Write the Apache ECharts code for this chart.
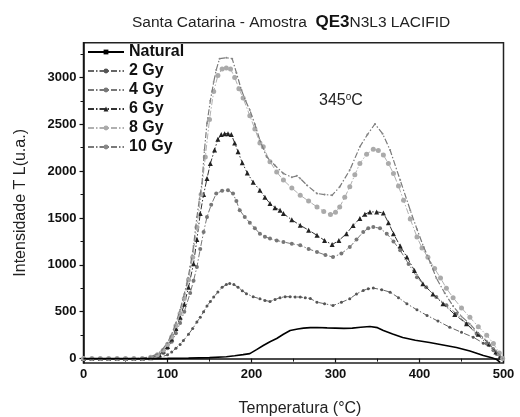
<!DOCTYPE html>
<html>
<head>
<meta charset="utf-8">
<script src="https://cdn.jsdelivr.net/npm/echarts@6/dist/echarts.min.js"></script>
<style>html,body{margin:0;padding:0;background:#fff}#c{width:520px;height:417px}</style>
</head>
<body>
<div id="c"></div>
<script>
var seriesNames = ['Natural', '2 Gy', '4 Gy', '6 Gy', '8 Gy', '10 Gy'];
var yTickValues = [0, 500, 1000, 1500, 2000, 2500, 3000];
var yMinorTickValues = [250, 750, 1250, 1750, 2250, 2750, 3250];

var natT = [0,25,50,75,100,125,150,170,180,190,198,206,214,222,230,238,246,255,262,270,278,290,300,310,320,330,341,350,357,368,380,395,412,428,444,460,476,486,492,496];
var natI = [0,0,0,0,2,5,10,20,30,42,53,96,140,180,214,260,300,315,325,330,332,328,325,322,325,335,342,330,300,262,225,195,171,145,118,80,32,10,-10,-40];

var gy2T = [0,10,20,30,40,50,60,70,80,90,100,105,110,115,119,125,130,135,139,143,147,151,155,160,165,170,174,179,184,189,194,202,210,216,222,228,234,240,246,252,258,264,270,278,287,297,307,317,325,333,339,345,355,365,375,385,397,409,422,436,450,464,476,488,493,496];
var gy2I = [0,0,0,0,0,0,0,0,0,10,40,70,110,150,193,260,320,390,442,500,560,610,656,710,760,790,802,790,760,725,692,660,638,620,610,630,650,660,660,658,656,650,640,602,585,567,600,638,690,727,745,752,735,709,650,585,520,460,400,335,280,228,165,104,50,14];

var gy4T = [0,10,20,30,40,50,60,70,80,90,95,100,105,110,115,120,127,131,135,139,143,147,152,158,165,172,178,182,186,192,198,204,210,216,222,230,238,248,258,268,278,288,297,307,317,325,333,339,345,353,361,369,377,387,397,408,420,432,444,456,468,480,488,492,496];
var gy4I = [0,0,0,0,0,0,0,0,8,30,60,110,180,270,380,500,700,830,977,1170,1350,1511,1640,1761,1790,1797,1760,1680,1583,1510,1450,1390,1333,1300,1280,1260,1244,1225,1209,1170,1137,1105,1083,1120,1190,1270,1351,1390,1404,1390,1333,1250,1155,1010,869,760,656,570,478,370,264,160,90,50,10];

var gy6T = [0,10,20,30,40,50,60,70,80,90,95,100,105,110,115,120,125,131,135,139,143,147,151,156,160,164,168,172,176,180,184,189,195,202,210,216,222,228,234,238,248,258,268,278,287,296,304,313,321,329,335,341,349,357,363,369,377,385,394,404,416,428,442,456,470,483,491,496];
var gy6I = [0,0,0,0,0,0,0,0,10,40,80,130,210,320,440,580,760,1013,1270,1548,1750,1920,2080,2225,2340,2390,2400,2400,2390,2300,2206,2090,1980,1880,1797,1720,1655,1610,1583,1547,1480,1422,1370,1315,1260,1216,1260,1333,1420,1494,1540,1565,1565,1554,1450,1333,1200,1083,940,799,690,585,470,371,260,157,70,14];

var gy8T = [0,10,20,30,40,50,60,70,80,88,95,100,105,110,115,120,125,130,135,140,145,150,155,160,165,170,175,180,185,190,198,204,210,214,222,230,238,248,258,268,278,286,294,300,305,311,317,323,329,337,345,351,357,363,369,375,381,389,397,403,410,418,425,432,440,450,460,470,480,488,495,499];
var gy8I = [0,0,0,0,0,0,0,0,15,40,90,150,230,350,480,640,840,1080,1400,1750,2150,2550,2850,3020,3090,3100,3090,3000,2880,2780,2590,2450,2300,2260,2100,1990,1904,1820,1743,1680,1618,1570,1537,1560,1618,1720,1832,1960,2082,2180,2232,2220,2171,2080,1975,1840,1690,1490,1297,1180,1080,960,860,750,650,540,440,340,250,160,60,0];

var gy10T = [0,10,20,30,40,50,60,70,80,88,93,100,105,110,115,120,123,127,131,135,138,141,144,147,151,155,158,162,170,177,182,188,193,198,204,210,218,228,238,248,254,258,266,278,287,296,305,317,329,338,347,356,365,377,389,397,405,413,420,430,440,450,460,470,480,488,495,499];
var gy10I = [0,0,0,0,0,0,0,5,20,50,86,170,260,380,520,690,800,980,1200,1510,1700,1868,2225,2510,2750,2950,3080,3200,3210,3200,3050,2866,2750,2652,2500,2330,2153,2060,1975,1935,1950,1922,1850,1761,1750,1743,1832,2011,2260,2390,2503,2400,2225,1904,1583,1380,1190,1020,860,700,560,450,370,270,190,110,40,0];

function pairs(T, I) { return T.map(function (t, i) { return [t, I[i]]; }); }

var FONT = 'Liberation Sans, Arial, Helvetica, sans-serif';
var dash = [6, 2, 1.5, 2];

var chart = echarts.init(document.getElementById('c'), null, { renderer: 'canvas' });
chart.setOption({
  animation: false,
  backgroundColor: '#fff',
  textStyle: { fontFamily: FONT },
  title: {
    left: 127, top: 9,
    text: '{a|Santa Catarina - Amostra  }{b|QE3}{a|N3L3 LACIFID}',
    textStyle: {
      fontWeight: 'normal',
      rich: {
        a: { fontSize: 15.5, fontWeight: 'normal', color: '#222', fontFamily: FONT },
        b: { fontSize: 17, fontWeight: 'bold', color: '#111', fontFamily: FONT }
      }
    }
  },
  grid: { left: 83.5, right: 16.5, top: 42.7, bottom: 54, show: true, borderColor: '#222', borderWidth: 1.5,
    containLabel: false, outerBoundsMode: 'none' },
  legend: {
    orient: 'vertical', left: 82, top: 39,
    itemWidth: 36, itemHeight: 6, itemGap: 3,
    data: seriesNames,
    textStyle: { fontSize: 16, fontWeight: 'bold', color: '#111', fontFamily: FONT, lineHeight: 16 }
  },
  xAxis: {
    type: 'value', min: 0, max: 500, interval: 100,
    name: 'Temperatura (°C)', nameLocation: 'middle', nameGap: 38,
    nameTextStyle: { fontSize: 16, color: '#222', fontFamily: FONT, padding: [0, 0, 0, 13] },
    axisLine: { show: true, lineStyle: { color: '#111', width: 1.5 } },
    axisTick: { show: true, inside: false, length: 4, lineStyle: { color: '#111', width: 1.2 } },
    minorTick: { show: true, splitNumber: 2, length: 3, lineStyle: { color: '#111', width: 1 } },
    axisLabel: { fontSize: 13, fontWeight: 'bold', color: '#111', margin: 5, fontFamily: FONT },
    splitLine: { show: false }
  },
  yAxis: [{
    type: 'value', min: -47, max: 3370,
    name: 'Intensidade T L(u.a.)', nameLocation: 'middle', nameGap: 55,
    nameTextStyle: { fontSize: 16, color: '#222', fontFamily: FONT },
    axisLine: { show: true, lineStyle: { color: '#111', width: 1.5 } },
    axisTick: { show: true, inside: false, length: 4, customValues: yTickValues, lineStyle: { color: '#111', width: 1.2 } },
    axisLabel: { fontSize: 13, fontWeight: 'bold', color: '#111', margin: 7, customValues: yTickValues, fontFamily: FONT,
      formatter: function (v) { return String(v); } },
    splitLine: { show: false }
  }, {
    type: 'value', min: -47, max: 3370, position: 'left',
    axisLine: { show: false },
    axisTick: { show: true, inside: false, length: 3, customValues: yMinorTickValues, lineStyle: { color: '#111', width: 1 } },
    axisLabel: { show: false, customValues: yMinorTickValues },
    splitLine: { show: false }
  }],
  graphic: [{
    type: 'text', left: 319, top: 92,
    style: {
      text: '345{s|o}C',
      font: '16px ' + FONT, fill: '#222',
      rich: { s: { fontSize: 10, fill: '#222', padding: [0, 0, 7, 0] } }
    }
  }],
  series: [
    { name: '2 Gy', type: 'line', data: pairs(gy2T, gy2I), symbol: 'circle', symbolSize: 3,
      itemStyle: { color: '#555' }, lineStyle: { color: '#666', width: 1, type: dash }, z: 2 },
    { name: '4 Gy', type: 'line', data: pairs(gy4T, gy4I), symbol: 'circle', symbolSize: 4,
      itemStyle: { color: '#777' }, lineStyle: { color: '#777', width: 1, type: dash }, z: 3 },
    { name: '6 Gy', type: 'line', data: pairs(gy6T, gy6I), symbol: 'triangle', symbolSize: 5,
      itemStyle: { color: '#222' }, lineStyle: { color: '#333', width: 1, type: dash }, z: 4 },
    { name: '8 Gy', type: 'line', data: pairs(gy8T, gy8I), symbol: 'circle', symbolSize: 5,
      itemStyle: { color: '#aaa' }, lineStyle: { color: '#b0b0b0', width: 1, type: dash }, z: 5 },
    { name: '10 Gy', type: 'line', data: pairs(gy10T, gy10I), symbol: 'circle', symbolSize: 2,
      itemStyle: { color: '#888' }, lineStyle: { color: '#7a7a7a', width: 1.2, type: dash }, z: 6 },
    { name: 'Natural', type: 'line', data: pairs(natT, natI), symbol: 'path://M0,0H10V1H0Z', symbolKeepAspect: true, showSymbol: false,
      itemStyle: { color: '#000' }, lineStyle: { color: '#000', width: 1.6 }, z: 7 }
  ]
});
</script>
</body>
</html>
